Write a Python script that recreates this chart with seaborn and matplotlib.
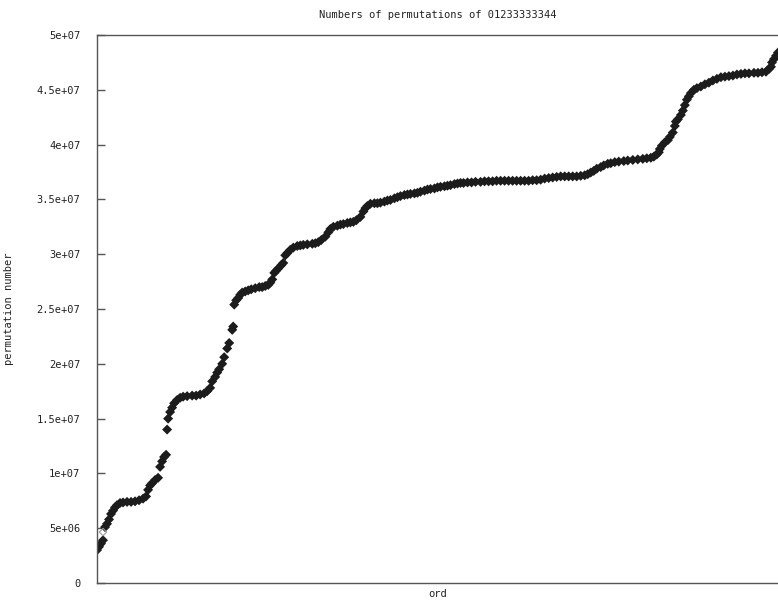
#!/usr/bin/env python3

import matplotlib
matplotlib.use("Agg")
import matplotlib.pyplot as plt
import numpy as np
import pandas as pd
import seaborn as sns

TITLE = "Numbers of permutations of 01233333344"

# ord positions and permutation numbers (millions)
ORD = [
    0, 2, 4, 6, 8, 10, 12, 14, 16, 18, 20, 23, 26, 30, 34, 38, 42, 46, 49, 51,
    53, 55, 58, 61, 63, 65, 67, 69, 70, 71, 73, 75, 77, 80, 83, 86, 90, 95, 99, 103,
    107, 110, 113, 115, 118, 120, 122, 125, 127, 130, 132, 135, 136, 137, 139, 141, 143, 145, 148, 151,
    154, 158, 162, 165, 168, 171, 173, 175, 177, 179, 181, 184, 186, 188, 190, 193, 196, 200, 203, 206,
    210, 215, 218, 221, 224, 228, 231, 233, 236, 240, 243, 246, 250, 253, 256, 259, 263, 266, 268, 270,
    273, 277, 280, 283, 287, 290, 293, 297, 300, 303, 307, 310, 313, 317, 320, 323, 327, 330, 333, 337,
    340, 343, 347, 350, 353, 357, 360, 363, 366, 370, 374, 378, 383, 387, 391, 395, 399, 403, 407, 411,
    415, 419, 423, 427, 431, 435, 439, 443, 447, 451, 455, 459, 463, 467, 471, 475, 479, 483, 487, 490,
    493, 496, 499, 503, 506, 510, 513, 517, 521, 526, 530, 535, 540, 545, 549, 553, 556, 559, 561, 562,
    564, 567, 570, 572, 575, 577, 578, 580, 583, 585, 587, 589, 591, 593, 596, 599, 603, 607, 611, 615,
    619, 623, 627, 631, 635, 639, 643, 647, 651, 656, 660, 664, 668, 671, 673, 674, 676, 678, 680,
]
PERM_M = [
    3.0, 3.3, 3.6, 3.9, 5.1, 5.4, 5.8, 6.3, 6.6, 6.9, 7.1, 7.3, 7.35, 7.4, 7.4, 7.45, 7.55, 7.7, 7.9, 8.5,
    8.9, 9.1, 9.4, 9.6, 10.6, 11.1, 11.5, 11.7, 14.0, 15.0, 15.6, 16.0, 16.4, 16.7, 16.9, 17.0, 17.05, 17.1, 17.1, 17.2,
    17.3, 17.5, 17.8, 18.4, 18.8, 19.2, 19.5, 20.0, 20.6, 21.4, 21.9, 23.1, 23.4, 25.4, 25.8, 26.0, 26.3, 26.5, 26.6, 26.7,
    26.8, 26.9, 27.0, 27.0, 27.1, 27.2, 27.4, 27.7, 28.3, 28.5, 28.7, 29.0, 29.2, 29.9, 30.1, 30.4, 30.6, 30.75, 30.8, 30.85,
    30.9, 30.95, 31.0, 31.1, 31.3, 31.6, 32.0, 32.3, 32.5, 32.6, 32.7, 32.75, 32.85, 32.9, 32.95, 33.1, 33.4, 33.9, 34.2, 34.4,
    34.6, 34.65, 34.65, 34.7, 34.8, 34.9, 34.95, 35.1, 35.2, 35.3, 35.4, 35.45, 35.5, 35.55, 35.6, 35.7, 35.8, 35.9, 35.95, 36.0,
    36.1, 36.15, 36.2, 36.25, 36.3, 36.4, 36.45, 36.5, 36.5, 36.55, 36.55, 36.6, 36.6, 36.65, 36.65, 36.65, 36.7, 36.7, 36.7, 36.7,
    36.7, 36.7, 36.7, 36.7, 36.7, 36.75, 36.75, 36.8, 36.9, 36.95, 37.0, 37.05, 37.1, 37.1, 37.1, 37.1, 37.1, 37.15, 37.2, 37.3,
    37.45, 37.6, 37.8, 37.95, 38.1, 38.25, 38.3, 38.4, 38.45, 38.5, 38.55, 38.6, 38.65, 38.7, 38.75, 38.8, 38.9, 39.1, 39.3, 39.6,
    39.9, 40.2, 40.4, 40.7, 41.1, 41.7, 42.1, 42.3, 42.7, 43.1, 43.6, 44.1, 44.4, 44.7, 45.0, 45.15, 45.3, 45.5, 45.65, 45.85,
    46.0, 46.15, 46.2, 46.25, 46.3, 46.4, 46.45, 46.5, 46.5, 46.55, 46.55, 46.6, 46.65, 46.9, 47.1, 47.5, 47.8, 48.1, 48.4,
]
# the one grey hollow point near the start
ODD_ORD = [6]
ODD_PERM_M = [4.65]

YTICKS = [0, 5e6, 1e7, 1.5e7, 2e7, 2.5e7, 3e7, 3.5e7, 4e7, 4.5e7, 5e7]

sns.set_style("white")
plt.rcParams["font.family"] = ["DejaVu Sans Mono", "DejaVu Sans"]

df = pd.DataFrame({"ord": ORD, "perm": np.array(PERM_M) * 1e6})
odd = pd.DataFrame({"ord": ODD_ORD, "perm": np.array(ODD_PERM_M) * 1e6})

fig = plt.figure(figsize=(7.78, 6.06), dpi=100)
ax = fig.add_axes([97 / 778, 23 / 606, 681 / 778, 548 / 606])

sns.scatterplot(data=df, x="ord", y="perm", ax=ax, marker="D", s=26,
                color="#1c1c1c", edgecolor="none", linewidth=0)
sns.scatterplot(data=odd, x="ord", y="perm", ax=ax, marker="D", s=14,
                facecolor="none", edgecolor="#999999", linewidth=0.8)

ax.set_xlim(0, 680)
ax.set_ylim(0, 5e7)
ax.set_xticks([])
ax.set_yticks(YTICKS)
ax.set_yticklabels(["%g" % v for v in YTICKS])
ax.tick_params(axis="y", direction="in", length=6, width=1, color="#555555",
               labelsize=7.5, labelcolor="#222222", pad=12, left=True, right=False)

for side in ["left", "top", "bottom"]:
    ax.spines[side].set_visible(True)
    ax.spines[side].set_color("#555555")
    ax.spines[side].set_linewidth(1)
ax.spines["right"].set_visible(False)

ax.set_xlabel("ord", fontsize=7.5, labelpad=4, color="#222222")
ax.set_ylabel("permutation number", fontsize=7.5, labelpad=16, color="#222222")
ax.set_title(TITLE, fontsize=7.5, pad=12, color="#222222")

fig.savefig("out.png", dpi=100)
